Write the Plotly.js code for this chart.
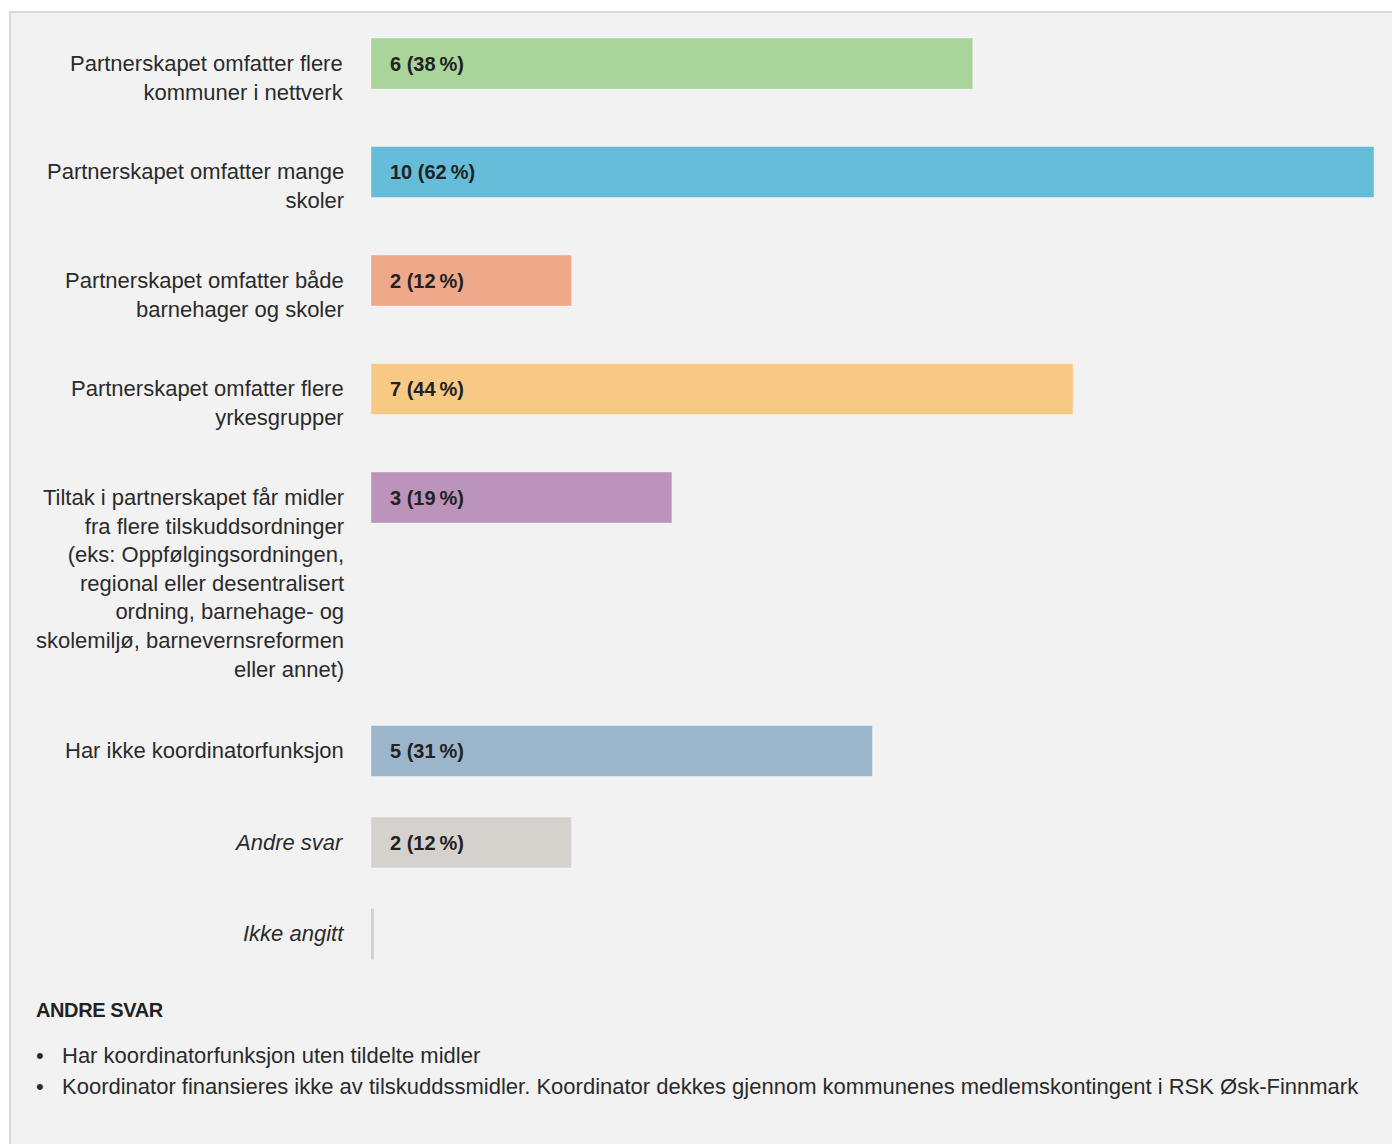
<!DOCTYPE html>
<html>
<head>
<meta charset="utf-8">
<script src="https://cdn.plot.ly/plotly-3.0.1.min.js"></script>
<style>
  html, body { margin: 0; padding: 0; background: #ffffff; }
  body { width: 1392px; height: 1144px; position: relative; overflow: hidden;
         font-family: "Liberation Sans", Arial, sans-serif; }
  #panel { position: absolute; left: 9px; top: 11px; right: 0; bottom: 0;
           background: #f2f2f2; border-top: 2px solid #d9d9d9; border-left: 2px solid #d9d9d9; }
  #chart { position: absolute; left: 0; top: 0; width: 1392px; height: 1144px; }
  #other-title { position: absolute; left: 36px; top: 998px; font-size: 20px; line-height: 24px;
                 font-weight: bold; color: #222; letter-spacing: -0.4px; }
  #other-list { position: absolute; left: 36px; top: 1040px; margin: 0; padding: 0; list-style: none;
                font-size: 22px; line-height: 31px; color: #2b2b2b; white-space: nowrap; }
  #other-list li { position: relative; padding-left: 26px; }
  #other-list li::before { content: "\2022"; position: absolute; left: 0; top: 0; }
</style>
</head>
<body>
<div id="panel"></div>
<div id="chart"></div>
<div id="other-title"></div>
<ul id="other-list"></ul>
<script>
// ---------------- DATA ----------------
const categories = [
  'Partnerskapet omfatter flere<br>kommuner i nettverk',
  'Partnerskapet omfatter mange<br>skoler',
  'Partnerskapet omfatter både<br>barnehager og skoler',
  'Partnerskapet omfatter flere<br>yrkesgrupper',
  'Tiltak i partnerskapet får midler<br>fra flere tilskuddsordninger<br>(eks: Oppfølgingsordningen,<br>regional eller desentralisert<br>ordning, barnehage- og<br>skolemiljø, barnevernsreformen<br>eller annet)',
  'Har ikke koordinatorfunksjon',
  'Andre svar',
  'Ikke angitt'
];
const counts   = [6, 10, 2, 7, 3, 5, 2, 0];
const percents = [38, 62, 12, 44, 19, 31, 12, 0];
const otherAnswersTitle = 'ANDRE SVAR';
const otherAnswers = [
  'Har koordinatorfunksjon uten tildelte midler',
  'Koordinator finansieres ikke av tilskuddssmidler. Koordinator dekkes gjennom kommunenes medlemskontingent i RSK Øsk-Finnmark'
];

// ---------------- STYLE ----------------
const BAR_COLORS = ['#a9d59b', '#66bdda', '#efa88a', '#f7c984', '#bc93bb', '#9bb5cb', '#d5d1cc', '#d5d1cc'];
const ITALIC_CATEGORIES = new Set(['Andre svar', 'Ikke angitt']);
const FONT = '"Liberation Sans", Arial, sans-serif';
const FIRST_TOP = 38, BAR_H = 51, LINE_H = 29, ROW_PAD = 50.5, MIN_ROW = 91.5;

// row layout: each row is as tall as its (wrapped) label
const tops = [];
let t = FIRST_TOP;
categories.forEach(c => {
  tops.push(t);
  const lines = c.split('<br>').length;
  t += Math.max(MIN_ROW, lines * LINE_H + ROW_PAD);
});
const centers = tops.map(v => v + BAR_H / 2);

const trace = {
  type: 'bar', orientation: 'h',
  x: counts, y: centers, width: BAR_H,
  marker: { color: BAR_COLORS.slice(0, counts.length), line: { color: 'rgba(255,255,255,0.35)', width: 1 } },
  hoverinfo: 'skip', showlegend: false
};

const annotations = [];
categories.forEach((c, i) => {
  annotations.push({
    xref: 'x', yref: 'y', x: 0, y: centers[i], xanchor: 'right', yanchor: 'top',
    xshift: -25, yshift: 15, align: 'right', showarrow: false,
    text: c,
    font: { family: FONT, size: 22, color: '#2b2b2b', style: ITALIC_CATEGORIES.has(c) ? 'italic' : 'normal' }
  });
  if (counts[i] > 0) {
    annotations.push({
      xref: 'x', yref: 'y', x: 0, y: centers[i], xanchor: 'left', yanchor: 'middle',
      xshift: 17, showarrow: false,
      text: counts[i] + ' (' + percents[i] + '\u2009%)',
      font: { family: FONT, size: 20, color: '#222222', weight: 'bold' }
    });
  }
});

const shapes = [];
counts.forEach((v, i) => {
  if (v === 0) {
    shapes.push({
      type: 'rect', xref: 'x', yref: 'y', xsizemode: 'pixel', xanchor: v,
      x0: 0, x1: 3, y0: tops[i], y1: tops[i] + BAR_H,
      fillcolor: BAR_COLORS[i], line: { width: 0 }
    });
  }
});

const layout = {
  width: 1392, height: 1144,
  margin: { l: 371, r: 18, t: 0, b: 0, pad: 0 },
  paper_bgcolor: 'rgba(0,0,0,0)', plot_bgcolor: 'rgba(0,0,0,0)',
  xaxis: { range: [0, 10], visible: false, fixedrange: true },
  yaxis: { range: [1144, 0], autorange: false, visible: false, fixedrange: true },
  annotations: annotations, shapes: shapes, showlegend: false
};

Plotly.newPlot('chart', [trace], layout, { staticPlot: true, displayModeBar: false });

document.getElementById('other-title').textContent = otherAnswersTitle;
const ul = document.getElementById('other-list');
otherAnswers.forEach(a => { const li = document.createElement('li'); li.textContent = a; ul.appendChild(li); });
</script>
</body>
</html>
